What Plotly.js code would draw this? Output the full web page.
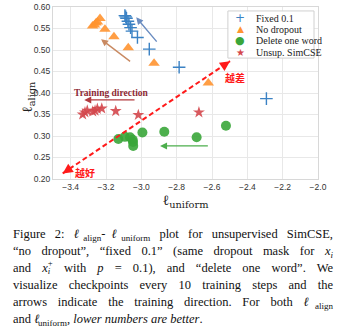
<!DOCTYPE html>
<html><head><meta charset="utf-8">
<script src="https://cdn.plot.ly/plotly-3.0.1.min.js"></script>
<style>
body{margin:0;padding:0;background:#fff;width:350px;height:334px;overflow:hidden;position:relative;}
#chart{position:absolute;left:0;top:0;width:350px;height:215px;}
#cap{position:absolute;left:13px;top:226px;width:320px;font-family:"Liberation Serif","Times New Roman",serif;font-size:12.5px;line-height:17px;color:#111;}
#cap div{text-align:justify;text-align-last:justify;height:17px;}
#cap div.last{text-align-last:left;}
#cap sub{font-size:0.72em;vertical-align:-0.3em;line-height:0;}
.l{font-style:italic;margin-right:-0.12em;}
.m{font-style:italic;}
.st{position:relative;display:inline-block;width:0.42em;height:0.8em;vertical-align:baseline;}
.st span{position:absolute;left:0.02em;font-size:0.7em;line-height:1;}
</style></head><body>
<div id="chart"></div>
<div id="cap">
<div>Figure 2: <span class="l">ℓ</span><sub>align</sub>-<span class="l">ℓ</span><sub>uniform</sub> plot for unsupervised SimCSE,</div>
<div>“no dropout”, “fixed 0.1” (same dropout mask for <span class="m">x</span><sub class="m">i</sub></div>
<div>and <span class="m">x</span><span class="st"><span style="top:-0.3em">+</span><span class="m" style="top:0.55em">i</span></span> with <span class="m">p</span> = 0.1), and “delete one word”. We</div>
<div>visualize checkpoints every 10 training steps and the</div>
<div>arrows indicate the training direction. For both <span class="l">ℓ</span><sub>align</sub></div>
<div class="last">and <span class="l">ℓ</span><sub>uniform</sub>, <i>lower numbers are better</i>.</div>
</div>
<script>
// Data
const fixedX = [-3.093, -3.088, -3.084, -3.076, -3.070, -3.061, -3.053, -3.022, -2.955, -2.786, -2.292];
const fixedY = [0.580, 0.577, 0.574, 0.567, 0.560, 0.552, 0.544, 0.529, 0.502, 0.460, 0.387];
const noDropX = [-3.276, -3.265, -3.257, -3.248, -3.234, -3.206, -3.155, -3.074, -2.928, -2.621];
const noDropY = [0.556, 0.558, 0.563, 0.565, 0.573, 0.548, 0.531, 0.505, 0.469, 0.423];
const delX = [-3.130, -3.093, -3.064, -3.049, -3.047, -3.046, -2.994, -2.870, -2.687, -2.521];
const delY = [0.293, 0.298, 0.297, 0.291, 0.286, 0.277, 0.308, 0.310, 0.297, 0.324];
const simX = [-3.332, -3.319, -3.306, -3.275, -3.262, -3.249, -3.224, -3.145, -3.017, -2.674];
const simY = [0.350, 0.355, 0.359, 0.357, 0.359, 0.363, 0.364, 0.358, 0.349, 0.355];
const seriesNames = ["Fixed 0.1", "No dropout", "Delete one word", "Unsup. SimCSE"];

const cBlue = "#3b82c4", cOrange = "#ff9430", cGreen = "#3aa63a", cRed = "#d4474d";

const traces = [
  {x: fixedX, y: fixedY, name: seriesNames[0], mode: "markers", type: "scatter",
   marker: {symbol: "cross-thin", size: 9, color: cBlue, line: {color: cBlue, width: 1.4}}},
  {x: noDropX, y: noDropY, name: seriesNames[1], mode: "markers", type: "scatter",
   marker: {symbol: "triangle-up", size: 10, color: cOrange, opacity: 0.9, line: {width: 0}}},
  {x: delX, y: delY, name: seriesNames[2], mode: "markers", type: "scatter",
   marker: {symbol: "circle", size: 10, color: cGreen, opacity: 0.9, line: {width: 0}}},
  {x: simX, y: simY, name: seriesNames[3], mode: "markers", type: "scatter",
   marker: {symbol: "star", size: 9, color: cRed, opacity: 0.9, line: {width: 0}}}
];

function arrow(x, y, ax, ay, color) {
  return {x: x, y: y, ax: ax, ay: ay, xref: "x", yref: "y", axref: "x", ayref: "y",
          text: "", showarrow: true, arrowhead: 2, arrowsize: 1, arrowwidth: 1.4,
          arrowcolor: color, standoff: 0, startstandoff: 0};
}
function head(x, y, ax, ay) {
  return {x: x, y: y, ax: ax, ay: ay, xref: "x", yref: "y", text: "", showarrow: true,
          arrowhead: 2, arrowsize: 1, arrowwidth: 2, arrowcolor: "#ff1a1a", standoff: 0};
}

const legX = 0.706, legTX = 0.757;
const legRows = [0.936, 0.870, 0.803, 0.736];
const legSym = ["+", "▲", "●", "★"];
const legCol = [cBlue, cOrange, cGreen, cRed];
const legSize = [12, 9, 11, 10];

const annotations = [
  arrow(-3.029, 0.576, -2.906, 0.516, "#6a8cc0"),
  arrow(-3.228, 0.525, -3.055, 0.471, "#c98a62"),
  arrow(-3.323, 0.384, -3.030, 0.384, "#b23a3f"),
  arrow(-2.894, 0.277, -2.615, 0.277, "#4cae4c"),
  head(-3.445, 0.213, 8.3, -5.6),
  head(-2.498, 0.474, -8.3, 5.6),
  {x: -3.168, y: 0.401, xref: "x", yref: "y", text: "<b>Training direction</b>", showarrow: false,
   font: {family: "Liberation Serif, serif", size: 9.5, color: "#8e2a35"}},
  {x: -2.470, y: 0.437, xref: "x", yref: "y", text: "<b>越差</b>", showarrow: false,
   font: {family: "Noto Sans CJK SC", size: 10, color: "#ff1a1a"}},
  {x: -3.319, y: 0.215, xref: "x", yref: "y", text: "<b>越好</b>", showarrow: false,
   font: {family: "Noto Sans CJK SC", size: 10, color: "#ff1a1a"}},
  {x: -0.094, y: 0.477, xref: "paper", yref: "paper", text: "ℓ<sub>align</sub>", showarrow: false,
   textangle: -90, xanchor: "center", yanchor: "middle",
   font: {family: "DejaVu Serif, serif", size: 14, color: "#222"}}
];
for (let i = 0; i < 4; i++) {
  annotations.push({x: legX, y: legRows[i], xref: "paper", yref: "paper", text: legSym[i],
    showarrow: false, xanchor: "center", yanchor: "middle",
    font: {family: "DejaVu Sans", size: legSize[i], color: legCol[i]}});
  annotations.push({x: legTX, y: legRows[i], xref: "paper", yref: "paper", text: seriesNames[i],
    showarrow: false, xanchor: "left", yanchor: "middle",
    font: {family: "Liberation Serif, serif", size: 10, color: "#222"}});
}

const layout = {
  width: 350, height: 215,
  margin: {l: 53, r: 32, t: 7, b: 36},
  paper_bgcolor: "#fff", plot_bgcolor: "#fff",
  showlegend: false,
  font: {family: "Liberation Sans, Arial, sans-serif", size: 8.5, color: "#333"},
  xaxis: {range: [-3.5, -2.0], tick0: -3.4, dtick: 0.2, tickformat: ".1f",
          showgrid: true, gridcolor: "#e8e8e8", gridwidth: 1, zeroline: false,
          showline: true, linecolor: "#d8d8d8", linewidth: 1, mirror: true, ticks: "",
          title: {text: "ℓ<sub>uniform</sub>", font: {family: "DejaVu Serif, serif", size: 14, color: "#222"}, standoff: 2}},
  yaxis: {range: [0.2, 0.6], tick0: 0.2, dtick: 0.05, tickformat: ".2f",
          showgrid: true, gridcolor: "#e8e8e8", gridwidth: 1, zeroline: false,
          showline: true, linecolor: "#d8d8d8", linewidth: 1, mirror: true, ticks: ""},
  shapes: [
    {type: "line", xref: "x", yref: "y", x0: -3.445, y0: 0.213, x1: -2.498, y1: 0.474,
     line: {color: "#ff1a1a", width: 2, dash: "5px,3px"}},
    {type: "rect", xref: "paper", yref: "paper", x0: 0.660, x1: 0.985, y0: 0.703, y1: 0.977,
     line: {color: "#d0d0d0", width: 1}, fillcolor: "rgba(255,255,255,0.9)", layer: "above"}
  ],
  annotations: annotations
};

Plotly.newPlot("chart", traces, layout, {displayModeBar: false, staticPlot: true});
</script>
</body></html>
